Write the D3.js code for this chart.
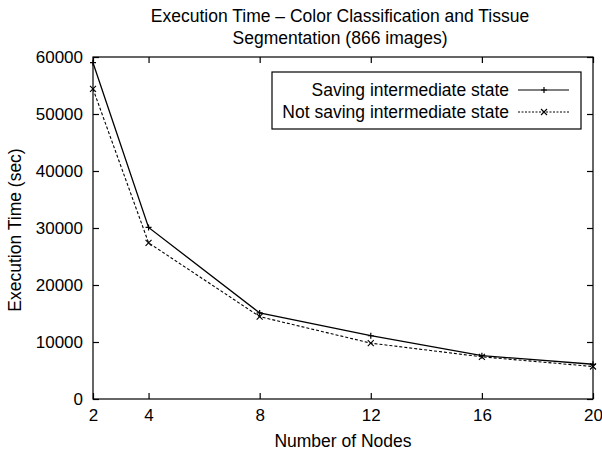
<!DOCTYPE html>
<html lang="en">
<head>
<meta charset="UTF-8">
<title>Execution Time</title>
<style>
    body { margin: 0; background: #fff; font-family: "Liberation Sans", Arial, sans-serif; }
    svg text { fill: #000; }
</style>
</head>
<body>
<div id="chart"></div>
<script src="https://d3js.org/d3.v7.min.js"></script>
<script>
// data
const nodes = [2, 4, 8, 12, 16, 20];
const saving = [59000, 30100, 15100, 11100, 7600, 6100];
const notSaving = [54400, 27400, 14450, 9800, 7400, 5700];
const yTicks = [0, 10000, 20000, 30000, 40000, 50000, 60000];
const seriesNames = ['Saving intermediate state', 'Not saving intermediate state'];

const W = 602, H = 453;
const margin = {top: 57, right: 9, bottom: 54, left: 93};
const width = W - margin.left - margin.right;
const height = H - margin.top - margin.bottom;
const fs = 17.5;

const svg = d3.select('#chart').append('svg')
    .attr('width', W).attr('height', H);

const g = svg.append('g')
    .attr('transform', 'translate(' + margin.left + ',' + margin.top + ')');

const x = d3.scaleLinear().domain([2, 20]).range([0, width]);
const y = d3.scaleLinear().domain([0, 60000]).range([height, 0]);

// frame
g.append('rect')
    .attr('width', width).attr('height', height)
    .attr('fill', 'none').attr('stroke', '#000').attr('stroke-width', 1.2);

// ticks point inwards on all four sides (gnuplot style)
const xb = g.append('g')
    .attr('transform', 'translate(0,' + height + ')')
    .call(d3.axisBottom(x).tickValues(nodes).tickSize(-6).tickPadding(10).tickFormat(d3.format('d')));
const xt = g.append('g')
    .call(d3.axisTop(x).tickValues(nodes).tickSize(-6).tickFormat(''));
const yl = g.append('g')
    .call(d3.axisLeft(y).tickValues(yTicks).tickSize(-6).tickPadding(10).tickFormat(d3.format('d')));
const yr = g.append('g')
    .attr('transform', 'translate(' + width + ',0)')
    .call(d3.axisRight(y).tickValues(yTicks).tickSize(-6).tickFormat(''));

[xb, xt, yl, yr].forEach(a => {
    a.select('.domain').remove();
    a.selectAll('line').attr('stroke', '#000').attr('stroke-width', 1.2);
    a.selectAll('text').attr('font-size', 17).attr('font-family', '"Liberation Sans", Arial, sans-serif');
});
xb.selectAll('text').attr('dy', '0.71em');

const line = d3.line().x((d, i) => x(nodes[i])).y(d => y(d));

g.append('path').datum(saving)
    .attr('d', line).attr('fill', 'none').attr('stroke', '#000').attr('stroke-width', 1.3);
g.append('path').datum(notSaving)
    .attr('d', line).attr('fill', 'none').attr('stroke', '#000').attr('stroke-width', 1.1)
    .attr('stroke-dasharray', '3,2');

function plus(sel, cx, cy) {
    sel.append('path').attr('d', `M${cx - 3},${cy}H${cx + 3}M${cx},${cy - 3}V${cy + 3}`)
        .attr('stroke', '#000').attr('stroke-width', 1.2);
}
function cross(sel, cx, cy) {
    sel.append('path').attr('d', `M${cx - 3},${cy - 3}L${cx + 3},${cy + 3}M${cx - 3},${cy + 3}L${cx + 3},${cy - 3}`)
        .attr('stroke', '#000').attr('stroke-width', 1.1);
}
saving.forEach((v, i) => plus(g, x(nodes[i]), y(v)));
notSaving.forEach((v, i) => cross(g, x(nodes[i]), y(v)));

// legend
const lg = svg.append('g');
lg.append('rect').attr('x', 272).attr('y', 72).attr('width', 309).attr('height', 57)
    .attr('fill', '#fff').attr('stroke', '#000').attr('stroke-width', 1.2);
seriesNames.forEach((name, i) => {
    const ly = 90 + i * 22;
    lg.append('text').attr('x', 509).attr('y', ly).attr('dy', '0.35em')
        .attr('text-anchor', 'end').attr('font-size', fs).text(name);
    lg.append('line').attr('x1', 518).attr('x2', 569).attr('y1', ly).attr('y2', ly)
        .attr('stroke', '#000').attr('stroke-width', i ? 1 : 1.2)
        .attr('stroke-dasharray', i ? '2,1.5' : null);
    if (i) cross(lg, 544, ly); else plus(lg, 544, ly);
});

// titles
svg.append('text').attr('x', 340).attr('y', 22).attr('text-anchor', 'middle')
    .attr('font-size', fs).text('Execution Time \u2013 Color Classification and Tissue');
svg.append('text').attr('x', 340).attr('y', 44).attr('text-anchor', 'middle')
    .attr('font-size', fs).text('Segmentation (866 images)');
svg.append('text').attr('x', 343).attr('y', 447).attr('text-anchor', 'middle')
    .attr('font-size', fs).text('Number of Nodes');
svg.append('text').attr('transform', 'translate(21,230) rotate(-90)')
    .attr('text-anchor', 'middle').attr('font-size', fs).text('Execution Time (sec)');
</script>
</body>
</html>
